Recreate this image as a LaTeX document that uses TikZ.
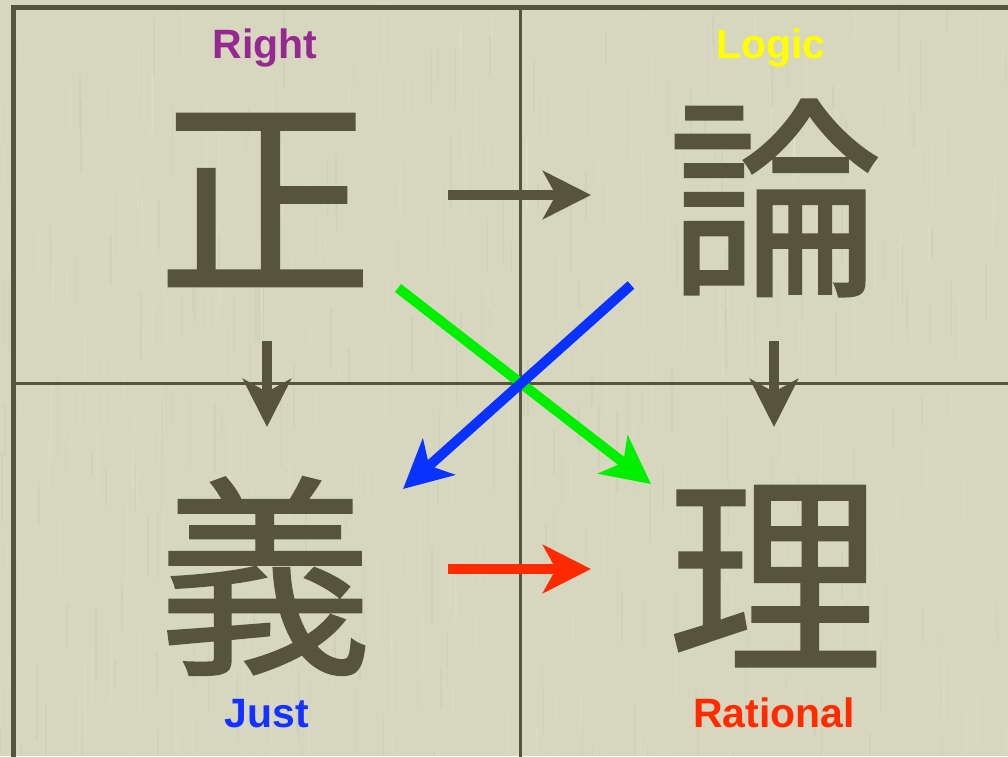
\documentclass[tikz,border=0pt]{standalone}
\usepackage{fontspec}
\setmainfont{Liberation Sans}
\newfontfamily\cjk[FakeBold=1]{Noto Sans CJK JP}
\usetikzlibrary{arrows.meta}
\definecolor{bg}{RGB}{215,214,191}
\definecolor{ink}{RGB}{87,84,60}
\definecolor{cpurple}{RGB}{150,40,146}
\definecolor{cyellow}{RGB}{255,255,0}
\definecolor{cblue}{RGB}{20,50,255}
\definecolor{cred}{RGB}{255,42,0}
\definecolor{cgreen}{RGB}{0,240,0}
\definecolor{cblue2}{RGB}{10,50,255}
\tikzset{
  kanji/.style={inner sep=0pt, text=ink, font=\cjk\fontsize{215}{215}\selectfont},
  label/.style={inner sep=0pt, anchor=base, font=\bfseries\fontsize{41}{41}\selectfont},
  grid/.style={draw=ink, line width=3pt},
  arr/.style={line width=10pt, -{Stealth[length=48pt, width=48pt, inset=13pt]}},
}
\begin{document}
\begin{tikzpicture}[x=1pt,y=-1pt]
\fill[bg] (0,0) rectangle (1008,756);
\useasboundingbox (0,0) rectangle (1008,756);
% paper texture
\pgfmathsetseed{7}
\foreach \i in {1,...,300}{
  \pgfmathsetmacro{\xx}{rnd*1008}
  \pgfmathsetmacro{\yy}{rnd*756}
  \pgfmathsetmacro{\ll}{20+rnd*60}
  \draw[white, opacity=0.09, line width=1.5pt] (\xx,\yy) -- (\xx,\yy+\ll);
}
\foreach \i in {1,...,200}{
  \pgfmathsetmacro{\xx}{rnd*1008}
  \pgfmathsetmacro{\yy}{rnd*756}
  \pgfmathsetmacro{\ll}{20+rnd*60}
  \draw[ink, opacity=0.04, line width=1.5pt] (\xx,\yy) -- (\xx,\yy+\ll);
}
% grid
\draw[draw=ink, line width=5pt] (13.5,760) -- (13.5,7.5) -- (1012,7.5);
\draw[grid] (520.5,7.5) -- (520.5,760);
\draw[grid] (13.5,383) -- (1012,383);
% kanji
\node[kanji] (zheng) at (265,200) {正};
\node[kanji] (lun) at (775,198) {論};
\node[kanji] (yi) at (265,576) {義};
\node[kanji] (li) at (775,576) {理};
% labels
\node[label, text=cpurple] (right) at (265,58) {Right};
\node[label, text=cyellow] (logic) at (771,58) {Logic};
\node[label, text=cblue] (just) at (267,727) {Just};
\node[label, text=cred] (rational) at (774,727) {Rational};
% arrow endpoints
\coordinate (a1s) at (448,195);
\coordinate (a1e) at (591,195);
\coordinate (a2s) at (448,569);
\coordinate (a2e) at (591,569);
\coordinate (a3s) at (267,341);
\coordinate (a3e) at (267,427);
\coordinate (a4s) at (774,341);
\coordinate (a4e) at (774,427);
\coordinate (gs) at (398,288);
\coordinate (ge) at (651,484);
\coordinate (bs) at (631,285);
\coordinate (be) at (403,489);
% arrows
\draw[arr, ink] (a1s) -- (a1e);
\draw[arr, cred] (a2s) -- (a2e);
\draw[arr, ink] (a3s) -- (a3e);
\draw[arr, ink] (a4s) -- (a4e);
\draw[arr, cgreen] (gs) -- (ge);
\draw[arr, cblue2] (bs) -- (be);
\end{tikzpicture}
\end{document}
